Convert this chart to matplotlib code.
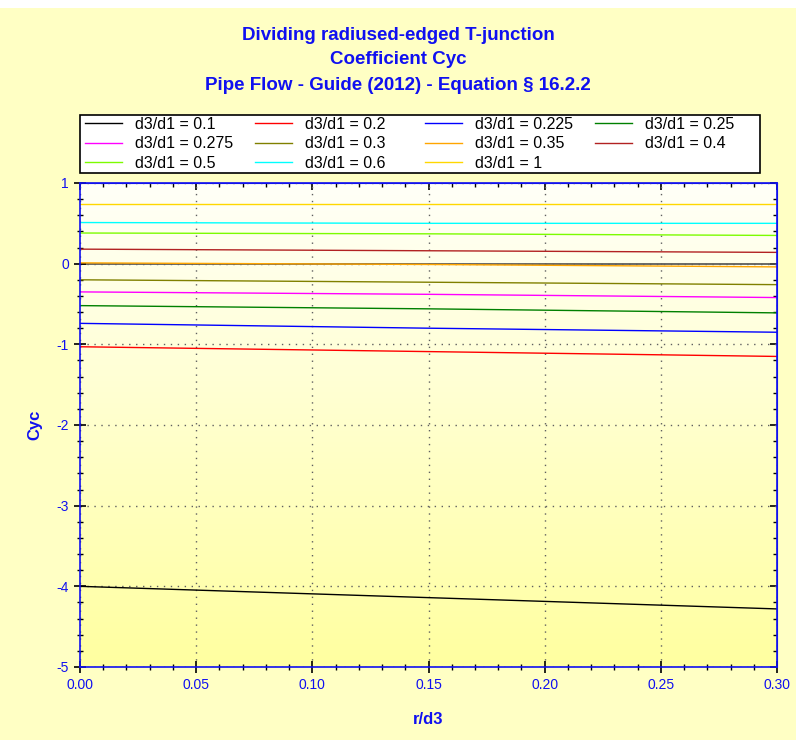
import numpy as np
import matplotlib
matplotlib.use("Agg")
from matplotlib import pyplot as plt
from matplotlib.ticker import MultipleLocator, NullFormatter
from matplotlib.colors import LinearSegmentedColormap

plt.rcParams['font.family'] = ['Liberation Sans', 'DejaVu Sans']

# r/d3 values where the curves were read
r_d3 = [0.0, 0.15, 0.30]

ratios = ['0.1', '0.2', '0.225', '0.25', '0.275', '0.3', '0.35', '0.4', '0.5', '0.6', '1']
colors = ['#000000', '#FF0000', '#0000FF', '#008000', '#FF00FF', '#808000',
          '#FFA500', '#B22222', '#7CFC00', '#00FFFF', '#FFD700']

cyc_01 = [-4.00, -4.14, -4.28]
cyc_02 = [-1.03, -1.09, -1.15]
cyc_0225 = [-0.74, -0.80, -0.85]
cyc_025 = [-0.52, -0.56, -0.61]
cyc_0275 = [-0.35, -0.38, -0.42]
cyc_03 = [-0.20, -0.23, -0.26]
cyc_035 = [0.01, -0.01, -0.04]
cyc_04 = [0.18, 0.16, 0.14]
cyc_05 = [0.38, 0.37, 0.35]
cyc_06 = [0.51, 0.50, 0.50]
cyc_1 = [0.74, 0.74, 0.74]

series = [cyc_01, cyc_02, cyc_0225, cyc_025, cyc_0275, cyc_03,
          cyc_035, cyc_04, cyc_05, cyc_06, cyc_1]

W, H = 796, 740
blue = '#1010F0'
fig = plt.figure(figsize=(W / 100, H / 100), dpi=100, facecolor='#FFFFC4')
# white strip at the very top
fig.patches.append(plt.Rectangle((0, 0.989), 1, 0.011, transform=fig.transFigure,
                                 facecolor='white', edgecolor='none'))

ax = fig.add_axes([80 / W, 1 - 667 / H, 697 / W, 484 / H])

# gradient background, light at top, yellow at bottom
grad = np.linspace(0, 1, 256).reshape(-1, 1)
cmap = LinearSegmentedColormap.from_list('bg', ['#FFFFA0', '#FFFFF8'])
ax.imshow(grad, aspect='auto', cmap=cmap, origin='lower',
          extent=[0, 0.3, -5, 1], zorder=0)

ax.axhline(0, color='#505050', lw=1.2, zorder=1)
lines = []
for vals, col, rt in zip(series, colors, ratios):
    ln, = ax.plot(r_d3, vals, color=col, lw=1.0, label=f'd3/d1 = {rt}', zorder=2)
    lines.append(ln)

ax.set_xlim(0, 0.3)
ax.set_ylim(-5, 1)
ax.xaxis.set_major_locator(MultipleLocator(0.05))
ax.xaxis.set_minor_locator(MultipleLocator(0.01))
ax.yaxis.set_major_locator(MultipleLocator(1))
ax.yaxis.set_minor_locator(MultipleLocator(0.2))
ax.xaxis.set_major_formatter(plt.FormatStrFormatter('%.2f'))
ax.yaxis.set_major_formatter(plt.FormatStrFormatter('%d'))
ax.grid(True, which='major', color='#606060', linestyle=(0, (1, 4)), lw=1.0)

for s in ax.spines.values():
    s.set_color(blue)
    s.set_linewidth(1.2)
ax.tick_params(which='both', direction='inout', color='black',
               labelcolor=blue, labelsize=10)
ax.tick_params(which='major', length=9, width=1.2)
ax.tick_params(which='minor', length=4.5, width=1.0)

# inside ticks on top and right
sec_x = ax.secondary_xaxis('top')
sec_y = ax.secondary_yaxis('right')
for a, loc_major, loc_minor in [(sec_x.xaxis, 0.05, 0.01), (sec_y.yaxis, 1, 0.2)]:
    a.set_major_locator(MultipleLocator(loc_major))
    a.set_minor_locator(MultipleLocator(loc_minor))
    a.set_major_formatter(NullFormatter())
for sec in (sec_x, sec_y):
    sec.set_color(blue)
    sec.tick_params(which='both', direction='in', color='black')
    sec.tick_params(which='major', length=5, width=1.2)
    sec.tick_params(which='minor', length=3, width=1.0)

ax.set_xlabel('r/d3', color=blue, fontweight='bold', fontsize=12, labelpad=14)
ax.set_ylabel('Cyc', color=blue, fontweight='bold', fontsize=12, labelpad=10)

fig.text(0.5, 1 - 35 / H, 'Dividing radiused-edged T-junction', ha='center', va='center',
         color=blue, fontweight='bold', fontsize=13.5)
fig.text(0.5, 1 - 60 / H, 'Coefficient Cyc', ha='center', va='center',
         color=blue, fontweight='bold', fontsize=13.5)
fig.text(0.5, 1 - 86 / H, 'Pipe Flow - Guide (2012) - Equation \u00a7 16.2.2', ha='center',
         va='center', color=blue, fontweight='bold', fontsize=13.5)

# legend box with four evenly spaced columns, filled row by row
fig.patches.append(plt.Rectangle((80 / W, 1 - 173 / H), 680 / W, 58 / H,
                                 transform=fig.transFigure, facecolor='white',
                                 edgecolor='black', lw=1.2, zorder=3))
for c in range(4):
    hs = lines[c::4]
    fig.legend(hs, [h.get_label() for h in hs], loc='upper left',
               bbox_to_anchor=((85 + 170 * c) / W, 1 - 117 / H), frameon=False,
               prop={'size': 11.5}, borderpad=0, borderaxespad=0,
               labelspacing=0.28, handlelength=2.3, handletextpad=0.8)

fig.savefig('out.png', dpi=100, facecolor=fig.get_facecolor())
